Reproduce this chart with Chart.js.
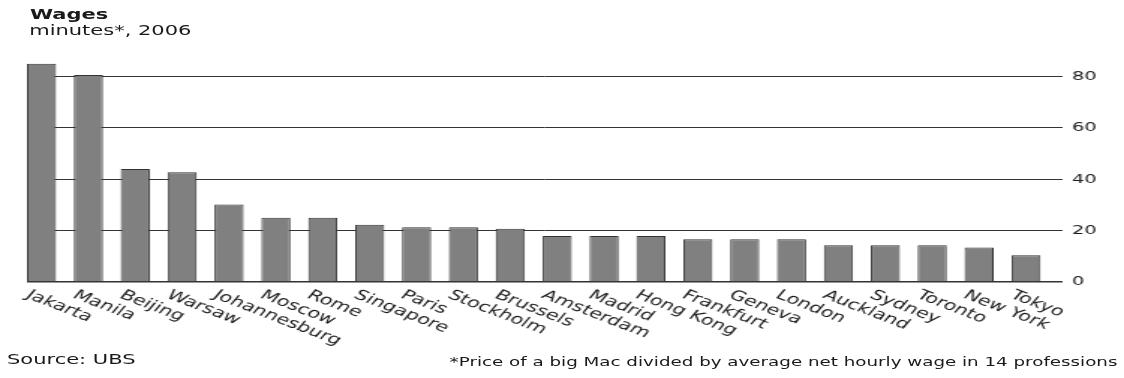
<!DOCTYPE html>
<html>
<head>
<meta charset="utf-8">
<script src="https://cdn.jsdelivr.net/npm/chart.js@4.4.1/dist/chart.umd.min.js"></script>
<style>
html,body{margin:0;padding:0;background:#fff;overflow:hidden;width:1124px;height:378px;}
#stage{position:absolute;left:0;top:0;width:750px;height:378px;transform:scaleX(1.498667);transform-origin:0 0;font-family:"DejaVu Sans",sans-serif;color:#1a1a1a;}
#stage canvas{position:absolute;left:0;top:0;}
.t{position:absolute;white-space:nowrap;line-height:1;}
#title{left:20px;top:6.6px;font-size:14px;font-weight:bold;}
#subtitle{left:19.5px;top:23.2px;font-size:14px;}
#source{left:4.7px;top:352px;font-size:14px;}
#note{left:300px;top:355.8px;font-size:12.2px;}
</style>
</head>
<body>
<div id="stage">
  <canvas id="c" width="750" height="378" style="width:750px;height:378px"></canvas>
  <div class="t" id="title">Wages</div>
  <div class="t" id="subtitle">minutes*, 2006</div>
  <div class="t" id="source">Source: UBS</div>
  <div class="t" id="note">*Price of a big Mac divided by average net hourly wage in 14 professions</div>
</div>
<script>
const cities = ['Jakarta','Manila','Beijing','Warsaw','Johannesburg','Moscow','Rome','Singapore','Paris','Stockholm','Brussels','Amsterdam','Madrid','Hong Kong','Frankfurt','Geneva','London','Auckland','Sydney','Toronto','New York','Tokyo'];
const minutes = [85, 80.6, 44, 42.7, 30.2, 25, 25, 22.3, 21.3, 21.3, 20.7, 17.9, 17.9, 17.9, 16.6, 16.6, 16.6, 14.3, 14.3, 14.3, 13.4, 10.4];
const yTicks = [0, 20, 40, 60, 80];

const cityLabels = {
  id: 'cityLabels',
  afterDraw(chart) {
    const {ctx, chartArea} = chart;
    const x = chart.scales.x;
    ctx.save();
    ctx.font = '14px "DejaVu Sans"';
    ctx.fillStyle = '#1a1a1a';
    ctx.textAlign = 'left';
    ctx.textBaseline = 'top';
    cities.forEach((c, i) => {
      const px = x.getPixelForValue(i) - 6;
      ctx.save();
      ctx.translate(px, chartArea.bottom + 6);
      ctx.rotate(Math.PI / 6);
      ctx.fillText(c, 0, 0);
      ctx.restore();
    });
    ctx.restore();
  }
};

new Chart(document.getElementById('c'), {
  type: 'bar',
  data: {
    datasets: [{
      data: minutes.map((v, i) => ({x: i, y: v})),
      backgroundColor: '#808080',
      borderColor: '#333333',
      borderWidth: 1,
      categoryPercentage: 1,
      barPercentage: 0.62
    }]
  },
  options: {
    responsive: false,
    animation: false,
    devicePixelRatio: 1,
    layout: {padding: {left: 18, right: 0, top: 50.8, bottom: 96}},
    plugins: {legend: {display: false}, tooltip: {enabled: false}, title: {display: false}},
    scales: {
      x: {type: 'linear', min: -0.31, max: 21.79, display: false, offset: false},
      y: {
        position: 'right',
        min: 0,
        max: 90,
        afterBuildTicks(s) { s.ticks = yTicks.map(v => ({value: v})); },
        afterFit(s) { s.width = 40.7; },
        border: {display: false},
        grid: {color: '#333333', drawTicks: false, lineWidth: c => (c.tick && c.tick.value === 0 ? 1.4 : 1)},
        ticks: {padding: 6, color: '#1a1a1a', font: {family: 'DejaVu Sans', size: 13}}
      }
    }
  },
  plugins: [cityLabels]
});
</script>
</body>
</html>
